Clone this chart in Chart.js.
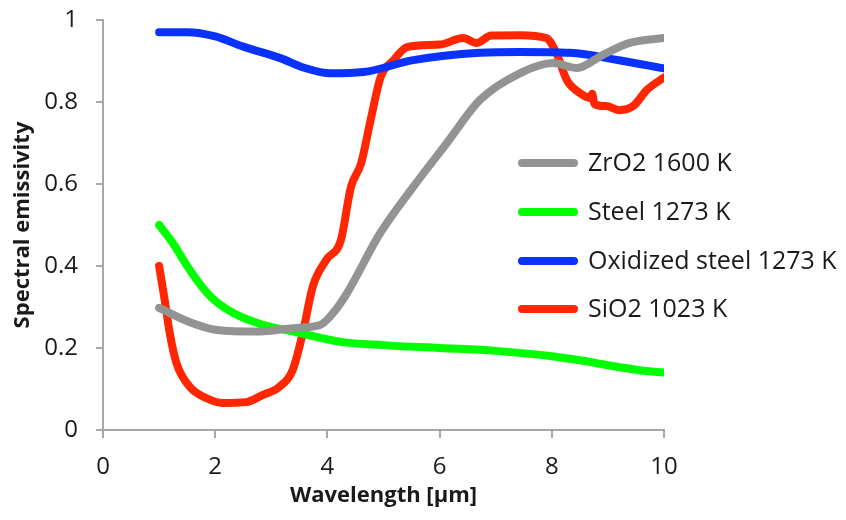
<!DOCTYPE html>
<html>
<head>
<meta charset="utf-8">
<script src="https://cdn.jsdelivr.net/npm/chart.js@4"></script>
<style>
    html, body { margin: 0; padding: 0; background: #fff; }
    #wrap { width: 846px; height: 520px; }
</style>
</head>
<body>
<div id="wrap"><canvas id="emissivity"></canvas></div>
<script>
const seriesNames = ['ZrO2 1600 K', 'Steel 1273 K', 'Oxidized steel 1273 K', 'SiO2 1023 K'];
const xTicks = [0, 2, 4, 6, 8, 10];
const yTicks = [0, 0.2, 0.4, 0.6, 0.8, 1];

const zro2X = [1, 1.55, 2.03, 2.74, 3.45, 3.87, 4.1, 4.35, 4.94, 5.53, 6.13, 6.72, 7.43, 8.02, 8.45, 8.91, 9.39, 10];
const zro2Y = [0.298, 0.263, 0.244, 0.24, 0.249, 0.256, 0.285, 0.334, 0.48, 0.593, 0.70, 0.805, 0.87, 0.895, 0.883, 0.915, 0.944, 0.956];

const steelX = [1, 1.25, 1.5, 1.75, 2, 2.34, 2.82, 3.53, 4.24, 5, 6, 7, 8, 8.5, 9, 9.5, 10];
const steelY = [0.50, 0.455, 0.40, 0.352, 0.315, 0.284, 0.258, 0.236, 0.215, 0.207, 0.20, 0.193, 0.18, 0.17, 0.158, 0.147, 0.14];

const oxX = [1, 1.5, 2, 2.5, 3.16, 3.6, 4.05, 4.64, 5.53, 6.72, 7.43, 8.32, 9.2, 10];
const oxY = [0.97, 0.97, 0.96, 0.935, 0.907, 0.883, 0.87, 0.873, 0.902, 0.92, 0.922, 0.92, 0.902, 0.882];

const sio2X = [1, 1.1, 1.19, 1.31, 1.55, 1.84, 2.13, 2.55, 2.84, 3.14, 3.38, 3.56, 3.74, 3.98, 4.24, 4.42, 4.6, 4.77, 4.95, 5.18, 5.42, 6.0, 6.42, 6.66, 6.92, 7.43, 7.9, 8.08, 8.27, 8.5, 8.68, 8.72, 8.76, 8.98, 9.2, 9.45, 9.7, 10];
const sio2Y = [0.40, 0.317, 0.236, 0.163, 0.105, 0.078, 0.066, 0.068, 0.085, 0.105, 0.146, 0.236, 0.35, 0.415, 0.463, 0.593, 0.65, 0.756, 0.861, 0.902, 0.934, 0.94, 0.956, 0.944, 0.962, 0.963, 0.956, 0.92, 0.853, 0.822, 0.81, 0.82, 0.795, 0.79, 0.78, 0.79, 0.83, 0.86];

const colors = ['#939393', '#00ff00', '#0a32ff', '#ff2600'];

function pairs(xs, ys) {
    return xs.map((x, i) => ({ x: x, y: ys[i] }));
}

const axisColor = '#a8a8a8';
const textColor = '#1a1a1a';
const fontFamily = '"Open Sans", Lato, sans-serif';

// legend sits inside the plot, to the right
const insideLegend = {
    id: 'insideLegend',
    afterDatasetsDraw(chart) {
        const ctx = chart.ctx;
        const rows = [163, 212, 261, 309];
        ctx.save();
        chart.data.datasets.forEach((ds, i) => {
            ctx.strokeStyle = ds.borderColor;
            ctx.lineWidth = 8;
            ctx.lineCap = 'round';
            ctx.beginPath();
            ctx.moveTo(522, rows[i]);
            ctx.lineTo(574, rows[i]);
            ctx.stroke();
            ctx.fillStyle = textColor;
            ctx.font = '25px ' + fontFamily;
            ctx.textBaseline = 'middle';
            ctx.textAlign = 'left';
            ctx.fillText(ds.label, 588, rows[i] + 1);
        });
        ctx.restore();
    }
};

const datasets = [
    pairs(zro2X, zro2Y),
    pairs(steelX, steelY),
    pairs(oxX, oxY),
    pairs(sio2X, sio2Y)
].map((data, i) => ({
    label: seriesNames[i],
    data: data,
    borderColor: colors[i],
    backgroundColor: colors[i],
    borderWidth: 8,
    borderCapStyle: 'round',
    borderJoinStyle: 'round',
    pointRadius: 0,
    cubicInterpolationMode: 'monotone',
    fill: false
}));

new Chart(document.getElementById('emissivity'), {
    type: 'line',
    data: { datasets: datasets },
    options: {
        responsive: true,
        maintainAspectRatio: false,
        animation: false,
        layout: { padding: { top: 20, right: 182, bottom: 8, left: 0 } },
        plugins: {
            legend: { display: false },
            tooltip: { enabled: false }
        },
        scales: {
            x: {
                type: 'linear',
                min: 0,
                max: 10,
                afterFit(scale) { scale.height = 82; },
                afterBuildTicks(scale) { scale.ticks = xTicks.map(v => ({ value: v })); },
                border: { color: axisColor, width: 2 },
                grid: { drawOnChartArea: false, drawTicks: true, tickLength: 8, color: axisColor, lineWidth: 2 },
                ticks: { color: textColor, padding: 15, font: { family: fontFamily, size: 24 }, maxRotation: 0 },
                title: {
                    display: true,
                    text: 'Wavelength [µm]',
                    color: textColor,
                    font: { family: fontFamily, size: 22, weight: 'bold' },
                    padding: { top: 0, bottom: 3 }
                }
            },
            y: {
                min: 0,
                max: 1,
                afterFit(scale) {
                    scale.width = 103;
                    scale.paddingTop = 0;
                    scale.paddingBottom = 0;
                },
                afterBuildTicks(scale) { scale.ticks = yTicks.map(v => ({ value: v })); },
                border: { color: axisColor, width: 2 },
                grid: { drawOnChartArea: false, drawTicks: true, tickLength: 7, color: axisColor, lineWidth: 2 },
                ticks: {
                    color: textColor,
                    padding: 18,
                    font: { family: fontFamily, size: 24 },
                    callback: v => String(Math.round(v * 10) / 10)
                },
                title: {
                    display: true,
                    text: 'Spectral emissivity',
                    color: textColor,
                    font: { family: fontFamily, size: 22, weight: 'bold' },
                    padding: { top: 10, bottom: 0 }
                }
            }
        }
    },
    plugins: [insideLegend]
});
</script>
</body>
</html>
